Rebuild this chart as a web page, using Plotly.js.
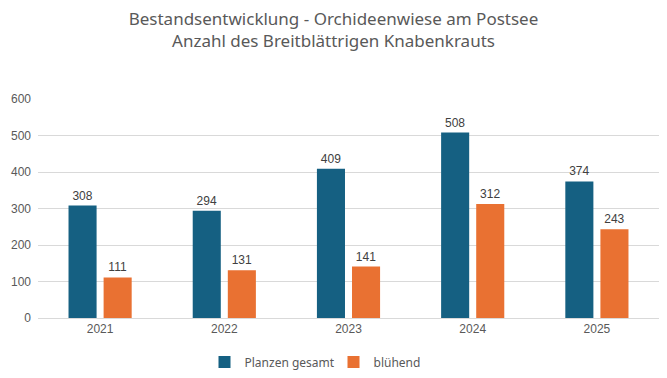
<!DOCTYPE html>
<html>
<head>
<meta charset="utf-8">
<script src="https://cdn.plot.ly/plotly-3.0.1.min.js"></script>
<style>html,body{margin:0;padding:0;background:#fff;}#chart{width:667px;height:378px;}</style>
</head>
<body>
<div id="chart"></div>
<script>
const years = ["2021", "2022", "2023", "2024", "2025"];
const planzenGesamt = [308, 294, 409, 508, 374];
const bluehend = [111, 131, 141, 312, 243];
const seriesNames = ["Planzen gesamt", "blühend"];
const titleLines = ["Bestandsentwicklung - Orchideenwiese am Postsee", "Anzahl des Breitblättrigen Knabenkrauts"];

const labelFont = {family: "Liberation Sans, Arial, sans-serif", size: 12, color: "#404040"};
const traces = [
  {type: "bar", x: years, y: planzenGesamt, name: seriesNames[0], marker: {color: "#156082"},
   text: planzenGesamt.map(String), textposition: "outside", textfont: labelFont, cliponaxis: false, hoverinfo: "none"},
  {type: "bar", x: years, y: bluehend, name: seriesNames[1], marker: {color: "#E97132"},
   text: bluehend.map(String), textposition: "outside", textfont: labelFont, cliponaxis: false, hoverinfo: "none"}
];
const layout = {
  width: 667, height: 378,
  margin: {l: 38, r: 8, t: 99, b: 60, autoexpand: false},
  paper_bgcolor: "#fff", plot_bgcolor: "#fff",
  title: {text: titleLines.join("<br>"), font: {family: "Noto Sans, sans-serif", size: 17, color: "#595959"},
          x: 0.5, xanchor: "center", y: 0.935, yanchor: "middle", yref: "container"},
  barmode: "group", bargap: 0.435, bargroupgap: 0.2,
  xaxis: {type: "category", showgrid: false, zeroline: false, showline: true, linecolor: "#D9D9D9", linewidth: 1,
          ticks: "", tickfont: {family: "Liberation Sans, Arial, sans-serif", size: 12, color: "#595959"}},
  yaxis: {range: [0, 600], dtick: 100, showgrid: true, gridcolor: "#D9D9D9", gridwidth: 1, zeroline: false,
          ticks: "", ticklabelstandoff: 6, tickfont: {family: "Liberation Sans, Arial, sans-serif", size: 12, color: "#595959"}},
  showlegend: true,
  legend: {orientation: "h", x: 0.5, xanchor: "center", xref: "container", y: 0.042, yanchor: "middle", yref: "container",
           font: {family: "Noto Sans, sans-serif", size: 12, color: "#595959"}, itemwidth: 30, traceorder: "normal",
           entrywidth: 84, entrywidthmode: "pixels"}
};
Plotly.newPlot("chart", traces, layout, {displayModeBar: false, staticPlot: true});
</script>
</body>
</html>
